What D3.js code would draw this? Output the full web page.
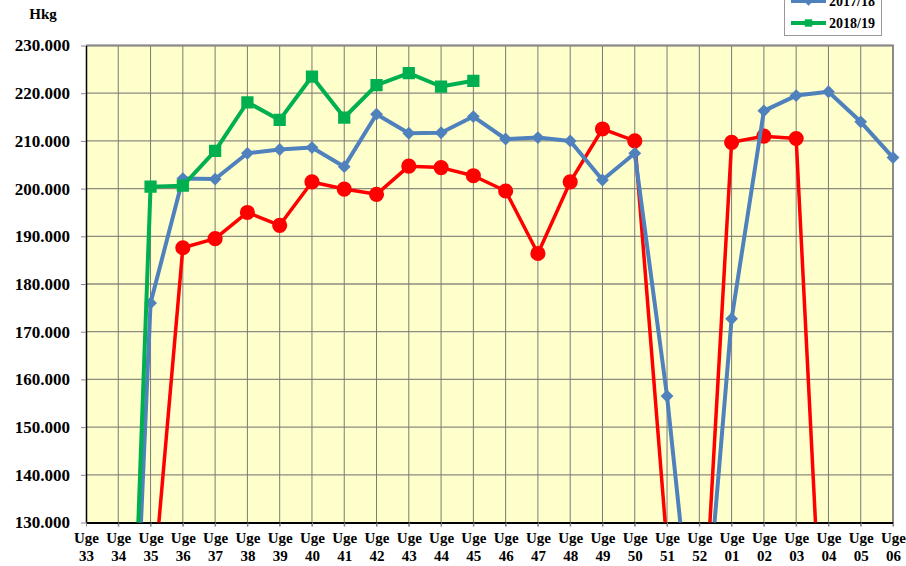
<!DOCTYPE html>
<html>
<head>
<meta charset="utf-8">
<script src="https://cdn.jsdelivr.net/npm/d3@7"></script>
<style>
  body { margin: 0; background: #fff; }
  text { font-family: "Liberation Serif", "Times New Roman", serif; font-weight: bold; fill: #000; }
</style>
</head>
<body>
<div id="chart"></div>
<script>
// week labels along the x axis
const weeks = ["33","34","35","36","37","38","39","40","41","42","43","44","45","46","47","48","49","50","51","52","01","02","03","04","05","06"];

// season values (Hkg), null = no data
const s1617 = [null, null, 110000, 187600, 189500, 195000, 192300, 201400, 199900, 198800, 204700, 204400, 202700, 199500, 186400, 201400, 212500, 210000, 125000, 91000, 209700, 211000, 210500, 76000, null, null];
const s1718 = [null, 21000, 176000, 202100, 202000, 207400, 208200, 208600, 204600, 215600, 211600, 211700, 215100, 210400, 210700, 210000, 201800, 207400, 156500, 92000, 172700, 216300, 219500, 220300, 214000, 206500];
const s1819 = [null, 15000, 200400, 200600, 207900, 218100, 214400, 223500, 214900, 221700, 224200, 221400, 222600, null, null, null, null, null, null, null, null, null, null, null, null, null];

const seriesNames = ["2016/17", "2017/18", "2018/19"];
const yTicks = [130000, 140000, 150000, 160000, 170000, 180000, 190000, 200000, 210000, 220000, 230000];

const W = 906, H = 566;
const plot = {left: 86, right: 893, top: 45.5, bottom: 522.5};

const svg = d3.select("#chart")
  .append("svg")
  .attr("width", W)
  .attr("height", H);

const x = d3.scalePoint()
  .domain(weeks)
  .range([plot.left, plot.right]);

const y = d3.scaleLinear()
  .domain([130000, 230000])
  .range([plot.bottom, plot.top]);

const fmt = d3.formatLocale({decimal: ",", thousands: ".", grouping: [3], currency: ["", ""]}).format(",d");

// plot background
svg.append("rect")
  .attr("x", plot.left)
  .attr("y", plot.top)
  .attr("width", plot.right - plot.left)
  .attr("height", plot.bottom - plot.top)
  .attr("fill", "#FFFFCC");

// gridlines
svg.append("g")
  .selectAll("line")
  .data(yTicks.slice(1))
  .join("line")
  .attr("x1", plot.left).attr("x2", plot.right)
  .attr("y1", d => y(d)).attr("y2", d => y(d))
  .attr("stroke", "#8c8c80")
  .attr("stroke-width", 1.3);

svg.append("g")
  .selectAll("line")
  .data(weeks.slice(1))
  .join("line")
  .attr("x1", d => x(d)).attr("x2", d => x(d))
  .attr("y1", plot.top).attr("y2", plot.bottom + 4)
  .attr("stroke", "#7a7a7a")
  .attr("stroke-width", 1);

// plot border (top / right)
svg.append("path")
  .attr("d", `M${plot.left},${plot.top}H${plot.right}V${plot.bottom}`)
  .attr("fill", "none")
  .attr("stroke", "#8a8a8a")
  .attr("stroke-width", 2);

// y axis
const yAxis = svg.append("g")
  .attr("transform", `translate(${plot.left},0)`)
  .call(d3.axisLeft(y)
    .tickValues(yTicks)
    .tickFormat(fmt)
    .tickSizeInner(5)
    .tickSizeOuter(0)
    .tickPadding(11));
yAxis.select(".domain").attr("stroke", "#000").attr("stroke-width", 1.5);
yAxis.selectAll(".tick line").attr("stroke", "#888");
yAxis.selectAll("text")
  .style("font-size", "17px")
  .attr("font-family", null);

// x axis
const xAxis = svg.append("g")
  .attr("transform", `translate(0,${plot.bottom})`)
  .call(d3.axisBottom(x).tickSize(4).tickSizeOuter(0).tickFormat(""));
xAxis.select(".domain").attr("stroke", "#000").attr("stroke-width", 2);
xAxis.selectAll(".tick line").attr("stroke", "#888");
xAxis.selectAll(".tick").each(function(d) {
  const t = d3.select(this).append("text")
    .attr("text-anchor", "middle")
    .style("font-size", "15px");
  t.append("tspan").attr("x", 0).attr("y", 20.5).text("Uge");
  t.append("tspan").attr("x", 0).attr("y", 38).text(d);
});

// unit label
svg.append("text")
  .attr("x", 43)
  .attr("y", 19)
  .attr("text-anchor", "middle")
  .style("font-size", "15px")
  .text("Hkg");

// lines + markers, clipped to the plot area
svg.append("clipPath")
  .attr("id", "plot-clip")
  .append("rect")
  .attr("x", plot.left)
  .attr("y", plot.top - 10)
  .attr("width", plot.right - plot.left + 10)
  .attr("height", plot.bottom - plot.top + 10);

const series = [
  {name: seriesNames[0], values: s1617, color: "#FF0000", marker: "circle", width: 3.5},
  {name: seriesNames[1], values: s1718, color: "#4F81BD", marker: "diamond", width: 4},
  {name: seriesNames[2], values: s1819, color: "#00B050", marker: "square", width: 4}
];

const symbolType = {circle: d3.symbolCircle, diamond: d3.symbolDiamond2, square: d3.symbolSquare};
const symbolSize = {circle: 180, diamond: 105, square: 150};

const line = d3.line()
  .defined(d => d.v != null)
  .x(d => x(d.w))
  .y(d => y(d.v));

const g = svg.append("g").attr("clip-path", "url(#plot-clip)");

series.forEach(s => {
  const pts = weeks.map((w, i) => ({w: w, v: s.values[i]}));
  g.append("path")
    .datum(pts)
    .attr("d", line)
    .attr("fill", "none")
    .attr("stroke", s.color)
    .attr("stroke-width", s.width)
    .attr("stroke-linejoin", "round");
  g.append("g")
    .selectAll("path")
    .data(pts.filter(d => d.v != null))
    .join("path")
    .attr("transform", d => `translate(${x(d.w)},${y(d.v)})`)
    .attr("d", d3.symbol().type(symbolType[s.marker]).size(symbolSize[s.marker]))
    .attr("fill", s.color);
});

// legend (top of it runs off the page, as in the original)
const legend = svg.append("g");
legend.append("rect")
  .attr("x", 784.5)
  .attr("y", -50)
  .attr("width", 97)
  .attr("height", 85.5)
  .attr("fill", "#fff")
  .attr("stroke", "#999")
  .attr("stroke-width", 1);

series.forEach((s, i) => {
  const cy = 23 - (2 - i) * 22;
  legend.append("line")
    .attr("x1", 791).attr("x2", 826)
    .attr("y1", cy).attr("y2", cy)
    .attr("stroke", s.color)
    .attr("stroke-width", 4);
  legend.append("path")
    .attr("transform", `translate(808.5,${cy})`)
    .attr("d", d3.symbol().type(symbolType[s.marker]).size(55))
    .attr("fill", s.color);
  legend.append("text")
    .attr("x", 829)
    .attr("y", cy + 5)
    .style("font-size", "14px")
    .text(s.name);
});
</script>
</body>
</html>
